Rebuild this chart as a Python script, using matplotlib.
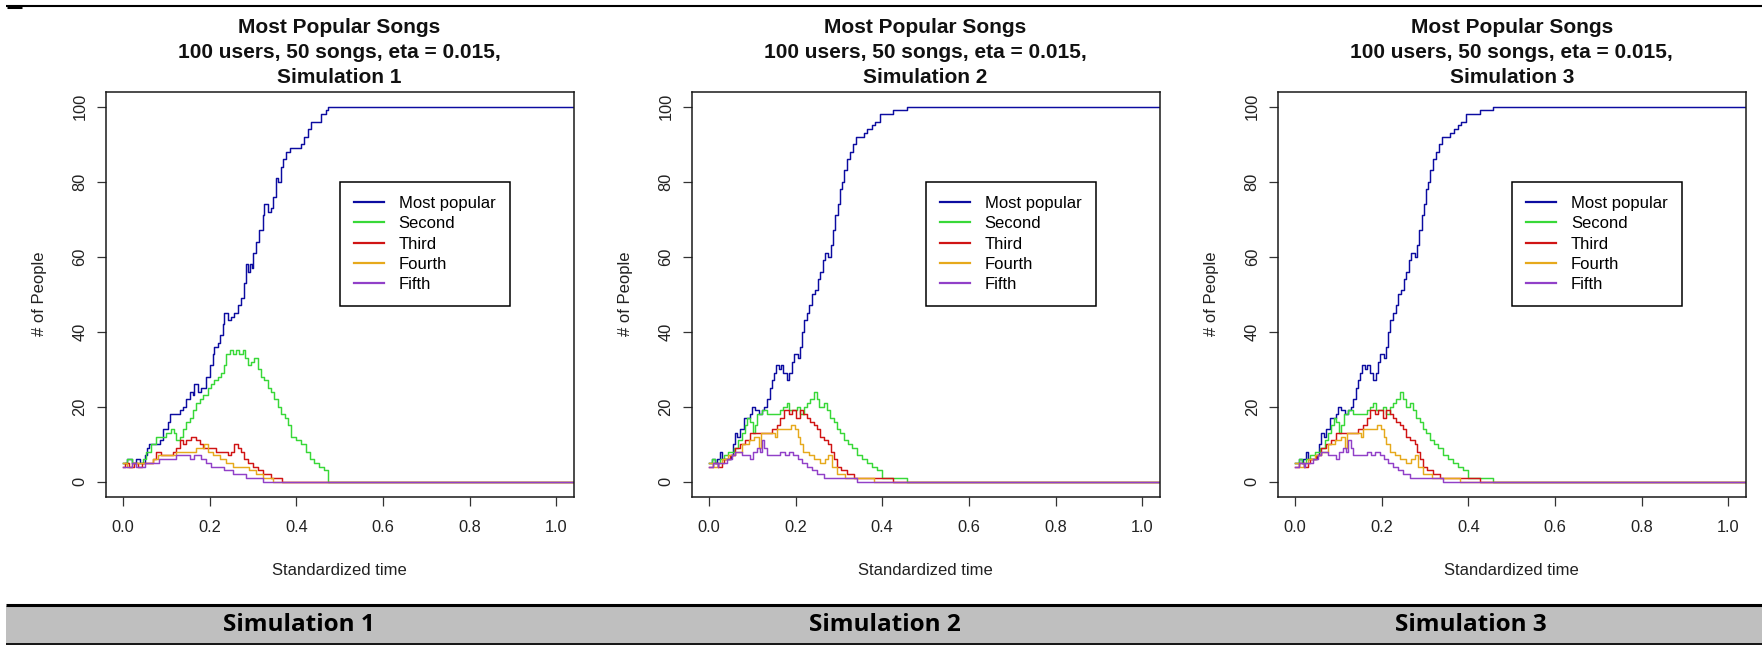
import matplotlib
matplotlib.use("Agg")
import matplotlib.pyplot as plt
from matplotlib.patches import Rectangle

plt.rcParams['font.family'] = ['Liberation Sans', 'DejaVu Sans']

# ---- data: (standardized time, # of people) step points ----
sim1_most = [(0.000, 5), (0.010, 6), (0.020, 5), (0.030, 6), (0.040, 5), (0.050, 7), (0.055, 9),
             (0.061, 10), (0.085, 11), (0.092, 14), (0.104, 16), (0.108, 18), (0.131, 19), (0.138, 20),
             (0.146, 22), (0.154, 24), (0.161, 23), (0.165, 26), (0.173, 24), (0.180, 25), (0.192, 28),
             (0.200, 31), (0.207, 34), (0.211, 36), (0.219, 37), (0.223, 39), (0.230, 42), (0.234, 45),
             (0.242, 43), (0.250, 44), (0.257, 45), (0.265, 47), (0.273, 49), (0.280, 53), (0.284, 58),
             (0.288, 56), (0.293, 58), (0.298, 57), (0.301, 61), (0.307, 64), (0.315, 67), (0.323, 71),
             (0.326, 74), (0.334, 72), (0.342, 73), (0.347, 76), (0.353, 81), (0.359, 80), (0.365, 84),
             (0.370, 86), (0.376, 88), (0.386, 89), (0.411, 90), (0.419, 92), (0.426, 94), (0.434, 96),
             (0.457, 98), (0.469, 99), (0.474, 100)]
sim1_second = [(0.000, 5), (0.010, 6), (0.020, 5), (0.046, 6), (0.054, 8), (0.065, 10), (0.077, 12),
               (0.100, 13), (0.111, 14), (0.117, 13), (0.123, 11), (0.131, 12), (0.138, 14), (0.146, 16),
               (0.154, 17), (0.161, 19), (0.169, 21), (0.177, 22), (0.184, 23), (0.196, 25), (0.204, 26),
               (0.211, 27), (0.219, 28), (0.227, 29), (0.234, 31), (0.238, 34), (0.246, 35), (0.253, 34),
               (0.261, 35), (0.269, 34), (0.276, 35), (0.282, 33), (0.288, 31), (0.296, 32), (0.303, 33),
               (0.311, 30), (0.319, 28), (0.326, 27), (0.334, 25), (0.342, 24), (0.349, 22), (0.357, 20),
               (0.365, 18), (0.373, 17), (0.380, 15), (0.388, 12), (0.399, 11), (0.411, 10), (0.422, 8),
               (0.432, 6), (0.442, 5), (0.453, 4), (0.465, 3), (0.474, 0)]
sim1_third = [(0.000, 4), (0.005, 5), (0.015, 4), (0.025, 5), (0.035, 4), (0.045, 5), (0.069, 6),
              (0.077, 8), (0.088, 7), (0.115, 8), (0.123, 9), (0.131, 11), (0.138, 10), (0.146, 11),
              (0.157, 12), (0.169, 11), (0.177, 10), (0.184, 9), (0.215, 8), (0.242, 7), (0.250, 8),
              (0.257, 10), (0.265, 9), (0.273, 8), (0.280, 6), (0.288, 5), (0.300, 4), (0.311, 3),
              (0.323, 2), (0.342, 1), (0.366, 0)]
sim1_fourth = [(0.000, 5), (0.010, 4), (0.020, 5), (0.069, 6), (0.081, 7), (0.123, 8), (0.169, 9),
               (0.188, 10), (0.196, 8), (0.207, 7), (0.223, 6), (0.238, 5), (0.253, 4), (0.292, 3),
               (0.307, 2), (0.323, 1), (0.346, 0)]
sim1_fifth = [(0.000, 4), (0.020, 5), (0.030, 4), (0.050, 5), (0.084, 6), (0.123, 7), (0.154, 6),
              (0.165, 7), (0.180, 6), (0.192, 5), (0.204, 4), (0.234, 3), (0.253, 2), (0.284, 1),
              (0.323, 0)]

sim2_most = [(0.000, 5), (0.008, 6), (0.015, 5), (0.018, 6), (0.025, 8), (0.030, 6), (0.051, 7),
             (0.055, 10), (0.061, 13), (0.066, 12), (0.072, 14), (0.080, 17), (0.094, 18), (0.099, 20),
             (0.107, 19), (0.115, 18), (0.122, 19), (0.128, 20), (0.134, 22), (0.140, 25), (0.146, 27),
             (0.151, 29), (0.155, 31), (0.161, 30), (0.166, 31), (0.172, 29), (0.180, 27), (0.186, 29),
             (0.192, 32), (0.197, 34), (0.205, 33), (0.211, 36), (0.215, 40), (0.220, 43), (0.226, 45),
             (0.232, 47), (0.238, 50), (0.245, 51), (0.251, 54), (0.257, 56), (0.263, 59), (0.268, 61),
             (0.276, 60), (0.282, 63), (0.286, 67), (0.292, 71), (0.297, 74), (0.302, 78), (0.307, 80),
             (0.312, 83), (0.318, 86), (0.326, 88), (0.332, 90), (0.340, 92), (0.357, 93), (0.366, 94),
             (0.376, 95), (0.384, 96), (0.395, 98), (0.426, 99), (0.457, 100)]
sim2_second = [(0.000, 5), (0.008, 6), (0.015, 5), (0.025, 6), (0.034, 7), (0.045, 8), (0.057, 9),
               (0.068, 11), (0.076, 13), (0.084, 15), (0.089, 17), (0.095, 16), (0.102, 13), (0.107, 15),
               (0.112, 18), (0.122, 19), (0.134, 18), (0.165, 19), (0.172, 20), (0.180, 21), (0.186, 19),
               (0.203, 20), (0.211, 18), (0.220, 20), (0.226, 21), (0.234, 22), (0.242, 24), (0.249, 22),
               (0.255, 20), (0.265, 21), (0.272, 19), (0.280, 17), (0.288, 16), (0.295, 14), (0.303, 13),
               (0.311, 11), (0.320, 10), (0.330, 9), (0.342, 7), (0.353, 6), (0.365, 5), (0.376, 4),
               (0.388, 3), (0.399, 1), (0.457, 0)]
sim2_third = [(0.000, 4), (0.010, 5), (0.020, 4), (0.030, 5), (0.034, 6), (0.049, 7), (0.061, 9),
              (0.072, 10), (0.084, 11), (0.095, 13), (0.145, 14), (0.157, 15), (0.165, 17), (0.174, 19),
              (0.184, 18), (0.192, 19), (0.202, 17), (0.211, 19), (0.218, 18), (0.226, 17), (0.234, 16),
              (0.242, 15), (0.249, 14), (0.257, 12), (0.266, 11), (0.276, 10), (0.282, 8), (0.288, 6),
              (0.295, 4), (0.305, 3), (0.318, 2), (0.334, 1), (0.426, 0)]
sim2_fourth = [(0.000, 5), (0.010, 4), (0.020, 5), (0.030, 6), (0.045, 7), (0.061, 8), (0.076, 10),
               (0.092, 11), (0.105, 12), (0.115, 9), (0.120, 13), (0.153, 12), (0.157, 14), (0.189, 15),
               (0.199, 14), (0.205, 12), (0.211, 10), (0.218, 8), (0.230, 7), (0.242, 6), (0.257, 5),
               (0.268, 6), (0.276, 7), (0.284, 4), (0.295, 2), (0.315, 1), (0.380, 0)]
sim2_fifth = [(0.000, 4), (0.010, 5), (0.020, 4), (0.022, 5), (0.042, 6), (0.053, 7), (0.061, 8),
              (0.076, 7), (0.095, 6), (0.102, 8), (0.111, 9), (0.118, 8), (0.122, 11), (0.128, 9),
              (0.134, 7), (0.165, 8), (0.176, 7), (0.184, 8), (0.195, 7), (0.205, 6), (0.215, 5),
              (0.226, 4), (0.238, 3), (0.249, 2), (0.265, 1), (0.342, 0)]

# simulation 3 shows the very same curves as simulation 2
sim3_most, sim3_second, sim3_third = sim2_most, sim2_second, sim2_third
sim3_fourth, sim3_fifth = sim2_fourth, sim2_fifth

simulations = [
    [sim1_most, sim1_second, sim1_third, sim1_fourth, sim1_fifth],
    [sim2_most, sim2_second, sim2_third, sim2_fourth, sim2_fifth],
    [sim3_most, sim3_second, sim3_third, sim3_fourth, sim3_fifth],
]
sim_names = ["Simulation 1", "Simulation 2", "Simulation 3"]
rank_labels = ["Most popular", "Second", "Third", "Fourth", "Fifth"]
rank_colors = ["#0c0ca0", "#38d838", "#d01414", "#e6a91c", "#9140c8"]
title_lines = ["Most Popular Songs", "100 users, 50 songs, eta = 0.015,"]
x_ticks = [0.0, 0.2, 0.4, 0.6, 0.8, 1.0]
y_ticks = [0, 20, 40, 60, 80, 100]
T_END = 1.04

W, H = 1762, 645
fig = plt.figure(figsize=(W / 100, H / 100), dpi=100)
fig.patch.set_facecolor("white")

# overlay in pixel units for the titles and the table strip
over = fig.add_axes([0, 0, 1, 1])
over.set_xlim(0, W)
over.set_ylim(H, 0)
over.set_axis_off()

# table strip at the bottom
over.add_patch(Rectangle((6, 606), W - 6, 37, facecolor="#bfbfbf", edgecolor="none"))
over.plot([6, W], [605, 605], color="black", lw=2.2, solid_capstyle="butt")
over.plot([6, W], [643.5, 643.5], color="black", lw=1.3, solid_capstyle="butt")
over.plot([6, W], [5.8, 5.8], color="black", lw=1.5, solid_capstyle="butt")
over.plot([7, 22], [6.5, 6.5], color="black", lw=2.2, solid_capstyle="butt")

ax_left = [105.6, 691.5, 1277.7]
ax_w, ax_top, ax_bot = 468.0, 91.7, 496.7
col_w = 586.0

for i, (series, name) in enumerate(zip(simulations, sim_names)):
    x0 = ax_left[i]
    ax = fig.add_axes([x0 / W, 1 - ax_bot / H, ax_w / W, (ax_bot - ax_top) / H])
    for pts, lab, col in zip(series, rank_labels, rank_colors):
        t = [p[0] for p in pts] + [T_END]
        n = [p[1] for p in pts] + [pts[-1][1]]
        ax.step(t, n, where="post", color=col, lw=1.05, label=lab)
    ax.set_xlim(-0.04, 1.04)
    ax.set_ylim(-4, 104)
    ax.set_xticks(x_ticks)
    ax.set_xticklabels([f"{v:.1f}" for v in x_ticks])
    ax.set_yticks(y_ticks)
    ax.set_yticklabels([str(v) for v in y_ticks], rotation=90, va="center")
    for sp in ax.spines.values():
        sp.set_linewidth(1.1)
        sp.set_color("#1a1a1a")
    ax.tick_params(direction="out", length=6.7, width=0.9, color="#333333",
                   labelsize=11.8, labelcolor="#222222")
    ax.tick_params(axis="x", pad=10)
    ax.tick_params(axis="y", pad=6.3)
    ax.set_xlabel("Standardized time", fontsize=12, color="#222222")
    ax.set_ylabel("# of People", fontsize=12, color="#222222")
    ax.xaxis.set_label_coords(0.5, -0.1637)
    ax.yaxis.set_label_coords(-0.126, 0.5)
    leg = ax.legend(loc="upper left", bbox_to_anchor=(0.5, 80), bbox_transform=ax.transData,
                    borderaxespad=0, fancybox=False, framealpha=1, edgecolor="black",
                    fontsize=12, handlelength=1.8, handletextpad=0.9, borderpad=0.85,
                    labelspacing=0.32)
    leg.get_frame().set_linewidth(1.1)
    for hl in leg.get_lines():
        hl.set_linewidth(1.6)

    cx = x0 + ax_w / 2
    lines = title_lines + [name]
    for k, txt in enumerate(lines):
        over.text(cx, 33.1 + 24.75 * k, txt, ha="center", va="baseline",
                  fontsize=15, fontweight="bold", color="#111111")

    # caption cell in the table strip
    over.text(6 + col_w * (i + 0.5), 625, name, ha="center", va="center",
              fontsize=17.5, fontweight="bold", family=["Open Sans", "DejaVu Sans"],
              color="black")

fig.savefig("out.png", dpi=100)
